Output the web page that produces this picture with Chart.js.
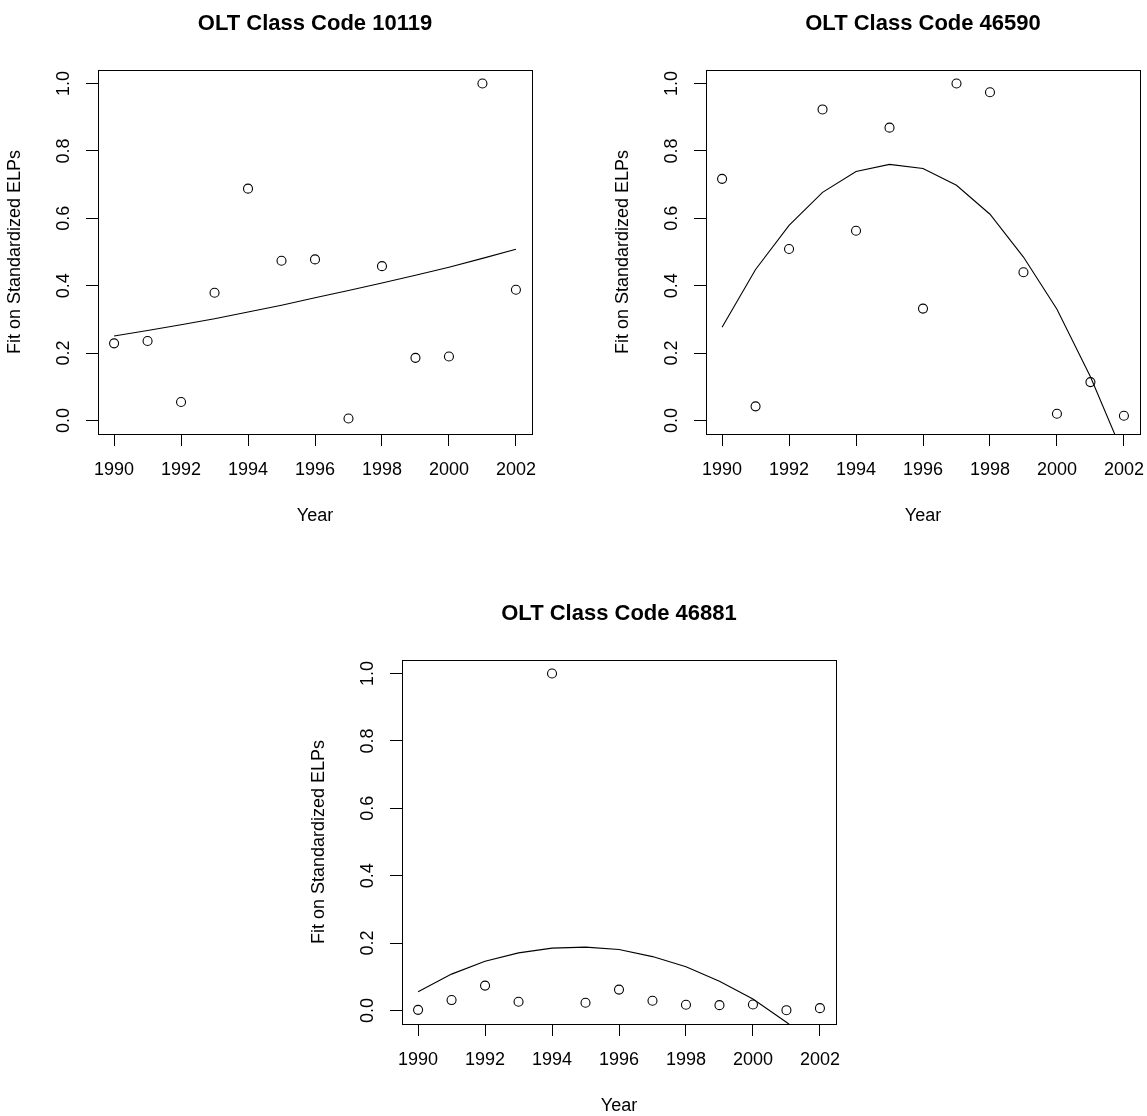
<!DOCTYPE html>
<html>
<head>
<meta charset="utf-8">
<script src="https://cdn.jsdelivr.net/npm/chart.js@4.4.1/dist/chart.umd.min.js"></script>
<style>
  body { margin: 0; background: #fff; }
  #wrap { position: relative; width: 1147px; height: 1116px; overflow: hidden; background: #fff; }
  canvas { position: absolute; }
</style>
</head>
<body>
<div id="wrap">
  <canvas id="c1" width="573" height="558" style="left:0px;top:0px;width:573px;height:558px"></canvas>
  <canvas id="c2" width="610" height="558" style="left:573px;top:0px;width:610px;height:558px"></canvas>
  <canvas id="c3" width="573" height="527" style="left:304px;top:590px;width:573px;height:527px"></canvas>
</div>
<script>
// years on the x axis
const years = [1990, 1991, 1992, 1993, 1994, 1995, 1996, 1997, 1998, 1999, 2000, 2001, 2002];

// OLT Class Code 10119
const pts10119 = [0.229, 0.236, 0.055, 0.379, 0.688, 0.474, 0.478, 0.006, 0.458, 0.186, 0.190, 1.0, 0.388];
const fit10119 = [0.251, 0.267, 0.284, 0.302, 0.322, 0.342, 0.364, 0.386, 0.408, 0.431, 0.455, 0.481, 0.508];

// OLT Class Code 46590
const pts46590 = [0.717, 0.042, 0.509, 0.923, 0.563, 0.869, 0.332, 1.0, 0.974, 0.440, 0.020, 0.114, 0.014];
const fit46590 = [0.277, 0.448, 0.579, 0.677, 0.739, 0.760, 0.748, 0.698, 0.612, 0.485, 0.330, 0.130, -0.105];

// OLT Class Code 46881
const pts46881 = [0.002, 0.031, 0.074, 0.026, 1.0, 0.023, 0.062, 0.029, 0.017, 0.016, 0.018, 0.001, 0.007];
const fit46881 = [0.056, 0.108, 0.146, 0.171, 0.185, 0.188, 0.181, 0.160, 0.130, 0.087, 0.034, -0.035, -0.107];

// tick labels and axis limits (R style 4% extension)
const xTicks = [1990, 1992, 1994, 1996, 1998, 2000, 2002];
const yTicks = [0, 0.2, 0.4, 0.6, 0.8, 1.0];
const xMin = 1989.52, xMax = 2002.48;
const yMin = -0.04, yMax = 1.04;

const FONT = "'Liberation Sans', Arial, Helvetica, sans-serif";

// frame around the plot region, like R's box()
const boxPlugin = {
  id: 'box',
  afterDatasetsDraw(chart) {
    const a = chart.chartArea;
    const ctx = chart.ctx;
    ctx.save();
    ctx.strokeStyle = '#000';
    ctx.lineWidth = 1;
    ctx.strokeRect(Math.round(a.left) + 0.5, Math.round(a.top) + 0.5,
                   Math.round(a.right - a.left), Math.round(a.bottom - a.top));
    ctx.restore();
  }
};

function makePanel(id, title, pts, fit, padLeft, padRight, padBottom) {
  const ctx = document.getElementById(id).getContext('2d');
  return new Chart(ctx, {
    type: 'scatter',
    data: {
      datasets: [
        {
          data: years.map((yr, i) => ({ x: yr, y: pts[i] })),
          showLine: false,
          pointRadius: 4.5,
          pointBorderWidth: 1.1,
          pointBorderColor: '#000',
          pointBackgroundColor: 'rgba(0,0,0,0)',
          borderColor: '#000',
          backgroundColor: 'rgba(0,0,0,0)'
        },
        {
          data: years.map((yr, i) => ({ x: yr, y: fit[i] })),
          showLine: true,
          pointRadius: 0,
          borderColor: '#000',
          borderWidth: 1.1,
          tension: 0,
          fill: false
        }
      ]
    },
    options: {
      responsive: false,
      animation: false,
      events: [],
      layout: { padding: { left: padLeft, right: padRight, top: 0, bottom: padBottom } },
      plugins: {
        legend: { display: false },
        tooltip: { enabled: false },
        title: {
          display: true,
          text: title,
          fullSize: false,
          color: '#000',
          font: { family: FONT, size: 22, weight: 'bold' },
          padding: { top: 11, bottom: 32.6 }
        }
      },
      scales: {
        x: {
          type: 'linear',
          min: xMin,
          max: xMax,
          afterBuildTicks: s => { s.ticks = xTicks.map(v => ({ value: v })); },
          afterFit: s => { s.height = 93; },
          grid: { drawOnChartArea: false, drawTicks: true, tickLength: 12, color: '#000', lineWidth: 1 },
          border: { display: false },
          ticks: {
            color: '#000',
            font: { family: FONT, size: 18 },
            padding: 13,
            maxRotation: 0,
            autoSkip: false,
            callback: v => String(v)
          },
          title: {
            display: true,
            text: 'Year',
            color: '#000',
            font: { family: FONT, size: 18 },
            padding: { top: 0, bottom: 0 }
          }
        },
        y: {
          type: 'linear',
          min: yMin,
          max: yMax,
          afterBuildTicks: s => { s.ticks = yTicks.map(v => ({ value: v })); },
          afterFit: s => { s.width = 98; },
          grid: { drawOnChartArea: false, drawTicks: true, tickLength: 12, color: '#000', lineWidth: 1 },
          border: { display: false },
          ticks: {
            color: '#000',
            font: { family: FONT, size: 18 },
            padding: 9,
            minRotation: 90,
            maxRotation: 90,
            crossAlign: 'center',
            autoSkip: false,
            callback: v => v.toFixed(1)
          },
          title: {
            display: true,
            text: 'Fit on Standardized ELPs',
            color: '#000',
            font: { family: FONT, size: 18 },
            padding: { top: 4, bottom: 0 }
          }
        }
      }
    },
    plugins: [boxPlugin]
  });
}

makePanel('c1', 'OLT Class Code 10119', pts10119, fit10119, 0, 41, 31);
makePanel('c2', 'OLT Class Code 46590', pts46590, fit46590, 35, 43, 31);
makePanel('c3', 'OLT Class Code 46881', pts46881, fit46881, 0, 41, 0);
</script>
</body>
</html>
